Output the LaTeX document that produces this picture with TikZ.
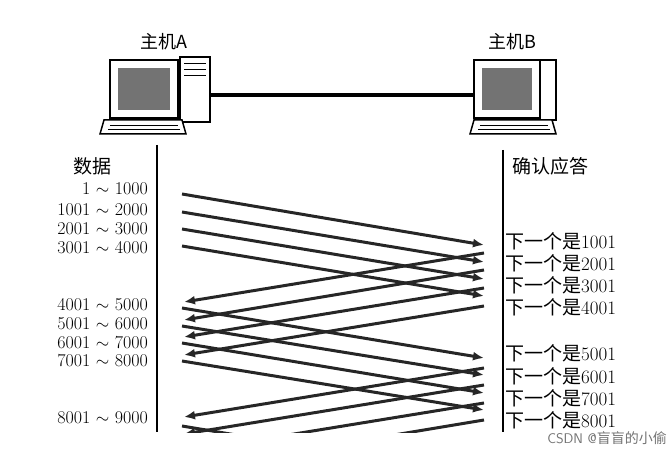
\documentclass[tikz,border=0pt]{standalone}
\usepackage{fontspec}
\newfontfamily\cjk{Noto Sans CJK SC}
\usetikzlibrary{arrows.meta}
\begin{document}
\begin{tikzpicture}[x=1pt,y=-1pt,
  msg/.style={line width=3pt,-{Latex[length=11pt,width=9pt]},draw=black!85},
  lab/.style={font=\fontsize{19}{19}\selectfont,inner sep=0pt},
  num/.style={font=\fontsize{18}{18}\selectfont,inner sep=0pt,text height=12pt,text depth=1pt},
  pc/.style={draw=black,line width=1.5pt,fill=white}]
\useasboundingbox (0,0) rectangle (672,457);
% host A
\node[lab,font=\cjk\fontsize{18}{18}\selectfont] (la) at (164,42) {主机A};
\draw[pc] (180,57) rectangle (210,122);
\draw[black,line width=1pt] (184,64)--(206,64) (184,70)--(206,70) (184,76)--(206,76);
\draw[pc] (110,60) rectangle (178,118);
\fill[black!55] (118,68) rectangle (170,110);
\draw[pc] (104,120) -- (182,120) -- (186,134) -- (100,134) -- cycle;
\draw[black,line width=0.8pt] (110,125)--(178,125) (108,129)--(180,129);
% host B
\node[lab,font=\cjk\fontsize{18}{18}\selectfont] (lb) at (512,42) {主机B};
\draw[pc] (540,60) rectangle (556,120);
\draw[pc] (474,60) rectangle (540,118);
\fill[black!55] (482,68) rectangle (532,110);
\draw[pc] (474,120) -- (552,120) -- (556,134) -- (470,134) -- cycle;
\draw[black,line width=0.8pt] (480,125)--(548,125) (478,129)--(550,129);
% cable
\coordinate (ca) at (210,95); \coordinate (cb) at (474,95);
\draw[line width=4pt] (ca) -- (cb);
% timelines
\coordinate (t1) at (157,145); \coordinate (t2) at (157,432);
\coordinate (t3) at (503,150); \coordinate (t4) at (503,432);
\draw[line width=2.5pt] (t1)--(t2); \draw[line width=2.5pt] (t3)--(t4);
\node[lab,font=\cjk\fontsize{19}{19}\selectfont] (hd) at (92,166) {数据};
\node[lab,font=\cjk\fontsize{19}{19}\selectfont] (ha) at (550,166) {确认应答};
% data labels
\foreach \t/\y [count=\i] in {1 $\sim$ 1000/189,1001 $\sim$ 2000/210,2001 $\sim$ 3000/229,3001 $\sim$ 4000/248,4001 $\sim$ 5000/305,5001 $\sim$ 6000/324,6001 $\sim$ 7000/343,7001 $\sim$ 8000/361,8001 $\sim$ 9000/418}
  \node[num,anchor=east] (d\i) at (148,\y) {\t};
\foreach \t/\y [count=\i] in {1001/243,2001/265,3001/287,4001/309,5001/355,6001/378,7001/400,8001/422}
  \node[num,font=\fontsize{19}{19}\selectfont,anchor=west] (k\i) at (505,\y) {{\cjk 下一个是}\t};
\begin{scope}
\clip (0,140) rectangle (672,432);
% data arrows
\foreach \a/\b [count=\i] in {194/245,212/262,229/279,246/296,308/358,326/375,343/393,361/410,426/476}{
  \coordinate (s\i) at (182,\a); \coordinate (e\i) at (484,\b);
  \draw[msg] (s\i) -- (e\i);}
% acks
\foreach \a/\b [count=\i] in {253/302,270/320,288/337,306/355,368/417,385/434,403/452,420/470}{
  \coordinate (r\i) at (484,\a); \coordinate (q\i) at (184,\b);
  \draw[msg] (r\i) -- (q\i);}
\end{scope}
\node[font=\sffamily\fontsize{14}{14}\selectfont,text=black!55,fill=white,inner sep=1pt,anchor=east] (wm) at (668,438) {CSDN @{\cjk 盲盲的小偷}};
\end{tikzpicture}
\end{document}
